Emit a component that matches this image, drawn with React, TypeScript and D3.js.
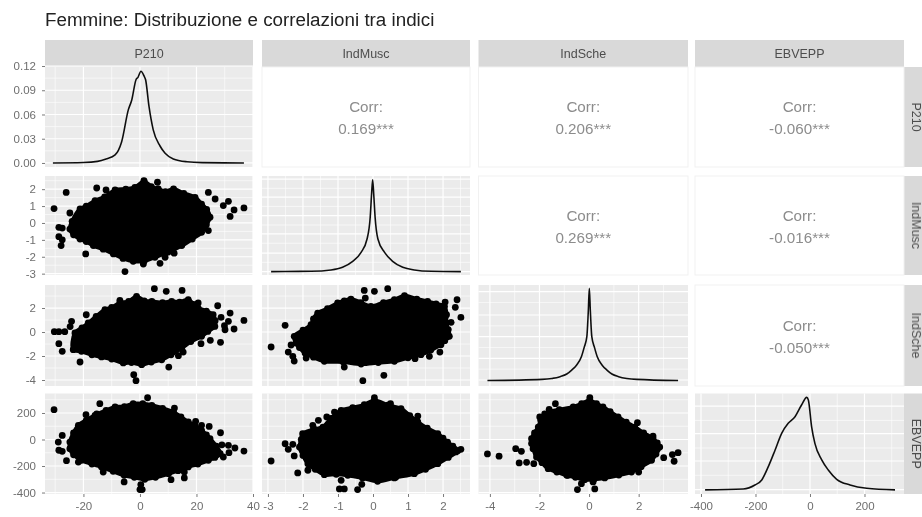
import { useRef, useEffect } from "react";
import * as d3 from "d3";

type Pt = [number, number];

const variables = ["P210", "IndMusc", "IndSche", "EBVEPP"];
const title = "Femmine: Distribuzione e correlazioni tra indici";

const xDomains: Pt[] = [[-33.6, 40], [-3.17, 2.77], [-4.46, 3.99], [-422, 345]];
const yDomains: Pt[] = [[-0.005, 0.1188], [-3.08, 2.78], [-4.5, 3.92], [-411, 347]];

const xTicks = [[-20, 0, 20, 40], [-3, -2, -1, 0, 1, 2], [-4, -2, 0, 2], [-400, -200, 0, 200]];
const yTicks = [[0, 0.03, 0.06, 0.09, 0.12], [-3, -2, -1, 0, 1, 2], [-4, -2, 0, 2], [-400, -200, 0, 200]];
// density panels keep their own grid, which does not line up with the row's ticks
const diagGrid = [
  [0, 0.03, 0.06, 0.09, 0.12],
  [-2.88, -1.78, -0.65, 0.43, 1.53, 2.6],
  [-4, -2.19, -0.39, 1.42, 3.36],
  [-378, -162, 44, 252],
];

const corrLabels = [
  { row: 0, col: 1, value: "0.169***" },
  { row: 0, col: 2, value: "0.206***" },
  { row: 0, col: 3, value: "-0.060***" },
  { row: 1, col: 2, value: "0.269***" },
  { row: 1, col: 3, value: "-0.016***" },
  { row: 2, col: 3, value: "-0.050***" },
];

const densityP210: Pt[] = [[-30.8, 0], [-20, 0.0005], [-15, 0.002], [-12, 0.005], [-8.8, 0.01], [-6.5, 0.026], [-4.1, 0.066], [-2.9, 0.078], [-1.4, 0.103], [-0.7, 0.106], [0.35, 0.1135], [1.4, 0.108], [2, 0.103], [3.2, 0.07], [4.7, 0.041], [7.1, 0.021], [8.9, 0.012], [11.8, 0.005], [16.6, 0.0015], [22, 0.0004], [36.8, 0]];
const densityMusc: Pt[] = [[-2.91, -2.88], [-1.77, -2.86], [-1.2, -2.78], [-0.87, -2.62], [-0.58, -2.27], [-0.34, -1.74], [-0.17, -0.95], [-0.08, 0.34], [-0.04, 1.72], [-0.01, 2.56], [0.02, 1.72], [0.06, 0.34], [0.14, -0.95], [0.33, -1.74], [0.56, -2.27], [0.85, -2.62], [1.18, -2.78], [1.66, -2.86], [2.51, -2.88]];
const densitySche: Pt[] = [[-4.1, -4.04], [-1.9, -3.95], [-1.5, -3.87], [-1.17, -3.72], [-0.9, -3.5], [-0.7, -3.17], [-0.5, -2.75], [-0.31, -2.06], [-0.2, -1.3], [-0.09, -0.39], [-0.03, 1.8], [0.01, 3.64], [0.05, 1.8], [0.11, -0.39], [0.22, -1.3], [0.33, -2.06], [0.52, -2.75], [0.72, -3.17], [0.92, -3.5], [1.19, -3.72], [1.52, -3.87], [1.92, -3.95], [3.59, -4.04]];
const densityEbv: Pt[] = [[-385, -380], [-245, -373], [-202, -343], [-177, -305], [-153, -205], [-128, -79], [-104, 47], [-80, 122], [-55, 172], [-31, 260], [-12, 318], [-6, 298], [6, 96], [18, -29], [43, -154], [67, -230], [98, -300], [147, -343], [208, -368], [312, -380]];
const densities = [densityP210, densityMusc, densitySche, densityEbv];

// the clouds are solid black, so each one is kept as its edge points plus the stray points around it
const muscP210Edge: Pt[] = [[-24.8, -0.36], [-24, 0.1], [-21.2, 0.83], [-19, 1], [-15.9, 1.32], [-12.5, 1.55], [-8.8, 1.95], [-5, 2], [-1.8, 2.11], [1.5, 2.46], [4, 2.15], [6.5, 2.01], [9, 1.85], [11.9, 2.01], [15.5, 1.75], [19.5, 1.52], [21.8, 1.12], [23.6, 0.8], [24.8, 0.34], [23.5, -0.1], [21.8, -0.55], [18.5, -0.95], [14.8, -1.34], [10, -1.72], [5.3, -2.03], [1.5, -2.25], [-2.4, -2.27], [-6, -2.1], [-9.4, -1.83], [-13, -1.55], [-16.5, -1.34], [-19, -1.1], [-21.2, -0.95], [-23.5, -0.7]];
const muscP210Stray: Pt[] = [[-30.4, 0.85], [-26.1, 1.81], [-28.7, -0.26], [-27.5, -0.3], [-28.7, -0.81], [-27.5, -1], [-27.9, -1.34], [-19.2, -1.83], [-24.8, 0.59], [-15.3, 2.07], [-12, 1.95], [-5.3, -2.88], [1.2, -2.43], [7.1, -2.39], [8.9, -2.03], [12.1, -1.79], [24.2, -0.45], [36.8, 0.89], [33.3, 0.77], [31.9, 0.39], [31.3, 1.28], [29.5, 1.03], [24.2, 1.81], [26.6, 1.42], [6.2, 2.41], [1.4, 2.5]];

const scheP210Edge: Pt[] = [[-23, -0.08], [-20.5, 0.35], [-18.3, 0.75], [-15.5, 1.3], [-12.4, 1.86], [-10, 2.05], [-7.1, 2.42], [-4, 2.55], [-1.2, 2.97], [1.5, 2.6], [4.2, 2.56], [8, 2.45], [11.2, 2.56], [14, 2.5], [17.1, 2.69], [19, 2.3], [20.6, 2], [23.5, 1.75], [25.9, 1.44], [26.6, 0.95], [26.5, 0.47], [24, 0.05], [21.8, -0.36], [18, -0.8], [14.8, -1.33], [11, -1.9], [7.7, -2.31], [4, -2.5], [0.6, -2.72], [-3, -2.55], [-5.9, -2.58], [-10, -2.25], [-13.6, -2.08], [-17, -1.9], [-20.7, -1.61], [-23.6, -1.47]];
const scheP210Stray: Pt[] = [[5.1, 3.61], [9.3, 3.39], [14.9, 3.47], [-19, 1.44], [-30.3, 0.03], [-28.7, 0.03], [-26.6, 0.03], [-28.7, -0.97], [-27.5, -1.61], [-24.2, 0.89], [-24.7, 0.45], [-21.2, -2.5], [10.2, -2.92], [-2.2, -3.56], [-1.4, -4.06], [36.8, 0.97], [33.3, 0.25], [31.9, 1.58], [31.3, 0.89], [29.9, 0.53], [30.1, 0.19], [28.7, 1.22], [27.5, 2.19], [28.5, -0.86], [24.9, -0.69], [21.6, -0.97], [15.3, -1.67], [13.6, -1.97], [20.6, 2.42], [-7.1, 2.64]];

const ebvP210Edge: Pt[] = [[-24.8, -19], [-23.5, 50], [-21.8, 107], [-19, 145], [-15.9, 182], [-12, 220], [-8.8, 245], [-5.5, 248], [-2.4, 270], [1, 270], [4.2, 258], [8, 235], [11.9, 207], [14.5, 170], [17.1, 132], [19.5, 105], [21.8, 69], [23.5, 35], [24.8, 6], [27, -50], [28.4, -107], [26.5, -135], [24.2, -157], [20.5, -185], [17.1, -207], [13.5, -235], [10.1, -258], [5.5, -285], [1.7, -300], [-2, -285], [-5.6, -270], [-9.5, -240], [-13.6, -207], [-17, -185], [-20.7, -157], [-23.5, -115], [-24.8, -69]];
const ebvP210Stray: Pt[] = [[-30.4, 225], [-14.2, 270], [2.7, 315], [12.2, 237], [-19.1, 187], [-15.3, 194], [19.7, 137], [24.5, 99], [28.5, 51], [-27.5, 31], [-28.9, -19], [-28.7, -81], [-27.5, -89], [-26, -160], [-21.8, -170], [-13, -245], [-5.6, -320], [0.3, -340], [0, -378], [0.8, -378], [11, -303], [15.7, -245], [15.7, -290], [36.8, -87], [33.6, -64], [31.3, -44], [29, -40], [31.5, -99], [29.5, -132], [21.8, 107]];

const scheMuscEdge: Pt[] = [[-2.25, -0.36], [-2, 0.15], [-1.77, 0.61], [-1.7, 1.1], [-1.58, 1.58], [-1.3, 1.95], [-1.01, 2.42], [-0.82, 2.6], [-0.63, 2.75], [-0.35, 2.45], [-0.06, 2.14], [0.3, 2.45], [0.61, 2.69], [0.9, 3.03], [1.25, 2.75], [1.56, 2.56], [1.8, 2.35], [2.04, 2.14], [2.1, 1.45], [2.09, 0.75], [2.15, 0.2], [2.18, -0.36], [2.05, -0.72], [1.94, -1.06], [1.65, -1.5], [1.37, -1.89], [1, -2.15], [0.61, -2.44], [0.15, -2.55], [-0.34, -2.67], [-0.85, -2.5], [-1.39, -2.44], [-1.7, -2.1], [-1.94, -1.75], [-2.1, -1.3], [-2.2, -0.92]];
const scheMuscStray: Pt[] = [[-2.91, -1.25], [-2.51, 0.56], [-2.34, -1.08], [-2.42, -1.67], [-2.29, -2.03], [-2.25, -2.42], [-0.25, 3.47], [0.04, 3.39], [0.42, 3.61], [-0.22, 2.83], [-0.29, -4.06], [0.31, -3.61], [1.61, -2.03], [2.51, 1.22], [2.35, 2.06], [2.4, 2.69], [2.23, 0.81], [2.06, 2.5], [1.91, -1.67], [1.2, -2.22], [-1.91, -2.17], [-0.82, -2.92]];

const ebvMuscEdge: Pt[] = [[-2.1, -57], [-2.05, 0], [-2.01, 44], [-1.7, 75], [-1.43, 94], [-1.2, 160], [-0.91, 220], [-0.58, 240], [-0.25, 262], [0.04, 295], [0.42, 260], [0.8, 232], [1.05, 180], [1.28, 132], [1.55, 85], [1.85, 44], [2, 10], [2.13, -19], [2.28, -50], [2.42, -84], [2.15, -135], [1.85, -182], [1.5, -225], [1.18, -258], [0.65, -285], [0.13, -315], [-0.3, -290], [-0.72, -270], [-1.05, -262], [-1.39, -265], [-1.65, -225], [-1.86, -182], [-2, -120]];
const ebvMuscStray: Pt[] = [[-2.91, -162], [-2.15, -252], [-2.51, -32], [-2.29, -36], [-2.42, -74], [-2.25, -124], [-1.86, -232], [-1.72, 107], [-1.69, 81], [-1.56, 145], [-1.32, 170], [-1.1, 207], [0.04, 315], [0.5, 270], [1.28, 177], [2.51, -74], [2.37, -94], [0.61, -290], [-0.91, -308], [-0.96, -373], [-0.82, -373], [-0.44, -378], [-0.32, -338]];

const ebvScheEdge: Pt[] = [[-2.26, -69], [-2.32, -30], [-2.32, 6], [-2.2, 50], [-2.05, 94], [-1.95, 145], [-1.79, 194], [-1.2, 225], [-0.64, 245], [-0.3, 270], [0.03, 295], [0.3, 270], [0.56, 245], [0.85, 210], [1.17, 170], [1.5, 130], [1.84, 94], [2.2, 50], [2.58, 6], [2.75, -25], [2.85, -57], [2.7, -110], [2.52, -157], [2.1, -205], [1.71, -245], [1.2, -268], [0.63, -290], [0.2, -300], [-0.18, -303], [-0.55, -285], [-0.9, -270], [-1.3, -245], [-1.65, -220], [-1.9, -175], [-2.12, -132]];
const ebvScheStray: Pt[] = [[-4.1, -109], [-3.63, -126], [-2.82, -177], [-2.52, -172], [-2.23, -182], [-2.96, -69], [-2.73, -89], [-1.36, 270], [-1.61, 228], [-1.99, 170], [0.03, 315], [1.95, 127], [2.58, 26], [3.01, -137], [3.36, -114], [3.59, -99], [3.43, -164], [-0.47, -378], [0.23, -373], [-0.31, -333], [-0.85, -270], [0.16, -320], [2, -245]];

const clouds = [
  { row: 1, col: 0, edge: muscP210Edge, stray: muscP210Stray },
  { row: 2, col: 0, edge: scheP210Edge, stray: scheP210Stray },
  { row: 3, col: 0, edge: ebvP210Edge, stray: ebvP210Stray },
  { row: 2, col: 1, edge: scheMuscEdge, stray: scheMuscStray },
  { row: 3, col: 1, edge: ebvMuscEdge, stray: ebvMuscStray },
  { row: 3, col: 2, edge: ebvScheEdge, stray: ebvScheStray },
];

const colBands: Pt[] = [[45, 253], [262, 470], [478.5, 688], [695, 904]];
const rowBands: Pt[] = [[67, 167], [176, 275], [285, 386], [393.5, 494]];

const FONT = "'Liberation Sans', Arial, sans-serif";
const PANEL_BG = "#EBEBEB";
const STRIP_BG = "#D9D9D9";
const AXIS_TEXT = "#6e6e6e";

const minorsOf = (ticks: number[], domain: Pt) => {
  const step = ticks[1] - ticks[0];
  const out = ticks.map((t) => t - step / 2).concat(ticks[ticks.length - 1] + step / 2);
  return out.filter((v) => v > domain[0] && v < domain[1]);
};

export default function App() {
  const svgRef = useRef<SVGSVGElement>(null);

  useEffect(() => {
    if (!svgRef.current) return;

    const svg = d3.select(svgRef.current);
    svg.selectAll("*").remove();

    svg.append("defs")
      .append("filter")
      .attr("id", "soft")
      .attr("x", 0).attr("y", 0).attr("width", 1).attr("height", 1)
      .append("feGaussianBlur")
      .attr("stdDeviation", 0.6);

    const root = svg.append("g").attr("filter", "url(#soft)").style("font-family", FONT);
    root.append("rect").attr("width", 922).attr("height", 517).attr("fill", "#fff");

    const xScales = colBands.map((b, i) => d3.scaleLinear().domain(xDomains[i]).range(b));
    const yScales = rowBands.map((b, i) => d3.scaleLinear().domain(yDomains[i]).range([b[1], b[0]]));

    root.append("text")
      .attr("x", 45).attr("y", 26)
      .attr("font-size", 18.8)
      .attr("fill", "#222")
      .text(title);

    // Strips
    variables.forEach((name, i) => {
      const [x0, x1] = colBands[i];
      root.append("rect").attr("x", x0).attr("y", 40).attr("width", x1 - x0).attr("height", 27).attr("fill", STRIP_BG);
      root.append("text")
        .attr("x", (x0 + x1) / 2).attr("y", 57.5)
        .attr("text-anchor", "middle").attr("font-size", 12.5).attr("fill", "#4d4d4d")
        .text(name);

      const [y0, y1] = rowBands[i];
      root.append("rect").attr("x", 904).attr("y", y0).attr("width", 18).attr("height", y1 - y0).attr("fill", STRIP_BG);
      root.append("text")
        .attr("transform", `translate(912,${(y0 + y1) / 2}) rotate(90)`)
        .attr("text-anchor", "middle").attr("font-size", 12.5).attr("fill", "#4d4d4d")
        .text(name);
    });

    // Panels
    rowBands.forEach((rb, r) => {
      colBands.forEach((cb, c) => {
        const g = root.append("g");
        if (r < c) {
          g.append("rect")
            .attr("x", cb[0]).attr("y", rb[0]).attr("width", cb[1] - cb[0]).attr("height", rb[1] - rb[0])
            .attr("fill", "#fff").attr("stroke", "#f1f1f1");
          return;
        }
        g.append("rect")
          .attr("x", cb[0]).attr("y", rb[0]).attr("width", cb[1] - cb[0]).attr("height", rb[1] - rb[0])
          .attr("fill", PANEL_BG);

        const x = xScales[c];
        const y = yScales[r];
        const yGrid = r === c ? diagGrid[r] : yTicks[r];

        const vLine = (vals: number[], w: number) => g.selectAll(null).data(vals).enter().append("line")
          .attr("x1", (d) => x(d)).attr("x2", (d) => x(d)).attr("y1", rb[0]).attr("y2", rb[1])
          .attr("stroke", "#fff").attr("stroke-width", w);
        const hLine = (vals: number[], w: number) => g.selectAll(null).data(vals).enter().append("line")
          .attr("y1", (d) => y(d)).attr("y2", (d) => y(d)).attr("x1", cb[0]).attr("x2", cb[1])
          .attr("stroke", "#fff").attr("stroke-width", w);

        vLine(minorsOf(xTicks[c], xDomains[c]), 0.6);
        hLine(minorsOf(yGrid, yDomains[r]), 0.6);
        vLine(xTicks[c].filter((v) => v >= xDomains[c][0] && v <= xDomains[c][1]), 1.2);
        hLine(yGrid, 1.2);

        if (r === c) {
          const line = d3.line<Pt>()
            .x((d) => x(d[0]))
            .y((d) => y(d[1]))
            .curve(d3.curveMonotoneX);
          g.append("path")
            .attr("d", line(densities[r]))
            .attr("fill", "none")
            .attr("stroke", "#111")
            .attr("stroke-width", 1.6);
        }
      });
    });

    // Scatter clouds
    clouds.forEach(({ row, col, edge, stray }) => {
      const x = xScales[col];
      const y = yScales[row];
      const g = root.append("g");
      const outline = d3.line<Pt>()
        .x((d) => x(d[0]))
        .y((d) => y(d[1]))
        .curve(d3.curveCatmullRomClosed);
      g.append("path")
        .attr("d", outline(edge))
        .attr("fill", "#000").attr("stroke", "#000").attr("stroke-width", 4).attr("stroke-linejoin", "round");
      g.selectAll("circle")
        .data(edge.concat(stray))
        .enter()
        .append("circle")
        .attr("cx", (d) => x(d[0]))
        .attr("cy", (d) => y(d[1]))
        .attr("r", 3.4)
        .attr("fill", "#000");
    });

    // Correlation text
    corrLabels.forEach(({ row, col, value }) => {
      const cx = (colBands[col][0] + colBands[col][1]) / 2;
      const cy = (rowBands[row][0] + rowBands[row][1]) / 2;
      const g = root.append("g").attr("text-anchor", "middle").attr("font-size", 15.2).attr("fill", "#8c8c8c");
      g.append("text").attr("x", cx).attr("y", cy - 5).text("Corr:");
      g.append("text").attr("x", cx).attr("y", cy + 17).text(value);
    });

    // Axes
    const styleAxis = (a: d3.Selection<SVGGElement, unknown, null, undefined>) => {
      a.select(".domain").remove();
      a.selectAll("line").attr("stroke", "#7a7a7a");
      a.selectAll("text").attr("fill", AXIS_TEXT).attr("font-size", 11.5).attr("font-family", FONT);
    };

    xScales.forEach((x, i) => {
      root.append("g")
        .attr("transform", "translate(0,494)")
        .call(d3.axisBottom(x).tickValues(xTicks[i]).tickSize(3).tickPadding(5).tickFormat((d) => String(d)))
        .call(styleAxis);
    });
    yScales.forEach((y, i) => {
      root.append("g")
        .attr("transform", "translate(45,0)")
        .call(
          d3.axisLeft(y).tickValues(yTicks[i]).tickSize(3).tickPadding(6)
            .tickFormat((d) => (i === 0 ? d3.format(".2f")(d as number) : String(d)))
        )
        .call(styleAxis);
    });
  }, []);

  return (
    <svg
      ref={svgRef}
      width={922}
      height={517}
      style={{ position: "absolute", left: 0, top: 0, display: "block" }}
    />
  );
}
